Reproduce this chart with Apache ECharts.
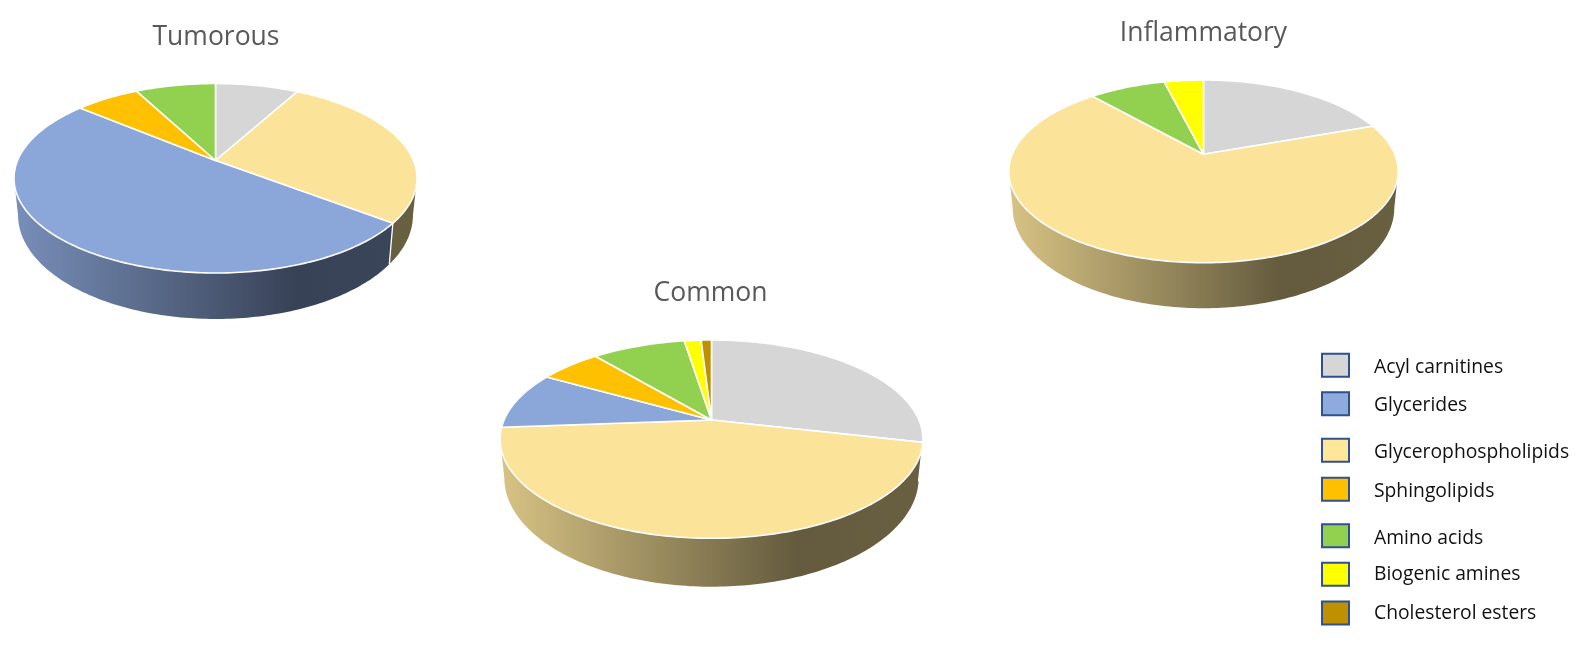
<!DOCTYPE html>
<html>
<head>
<meta charset="utf-8">
<style>html,body{margin:0;padding:0;background:#fff}#c{width:1594px;height:649px}</style>
<script src="https://cdn.jsdelivr.net/npm/echarts@6/dist/echarts.min.js"></script>
</head>
<body>
<div id="c"></div>
<script>
// Categories in legend order
const categories = ['Acyl carnitines','Glycerides','Glycerophospholipids','Sphingolipids','Amino acids','Biogenic amines','Cholesterol esters'];
// Percent share of each category
const tumorousValues     = [8.0, 50.7, 27.4, 6.2, 7.7, 0, 0];
const inflammatoryValues = [19.5, 0, 69.0, 0, 7.6, 3.9, 0];
const commonValues       = [28.6, 9.4, 45.2, 5.7, 8.6, 1.55, 0.95];
// Clockwise slice order from 12 o'clock (indices into categories)
const sliceOrder = [0, 2, 1, 3, 4, 5, 6];
const colors = ['#D6D6D6','#8BA6D8','#FBE39A','#FFC000','#92D050','#FFFF00','#BF9000'];
const legendFill = ['#D6D6D6','#8FAADC','#FFE699','#FFC000','#92D050','#FFFF00','#BF9000'];
const legendCentres = [365.3, 403.8, 450.2, 489.3, 535.8, 574.3, 613];
const legendTextCentres = [367.3, 406, 452.6, 491.4, 538.3, 574.6, 614];

const pies = [
  {title:'Tumorous',     values:tumorousValues,     cx:215.5, apexY:160.5, top:83.5, bottom:273,   left:14,    right:417,   drop:36.75, titleX:211,    titleY:18.5},
  {title:'Inflammatory', values:inflammatoryValues, cx:1203.5,apexY:154.3, top:80,   bottom:262.7, left:1008.8,right:1398.2,drop:36.6,  titleX:1198.5, titleY:14.5},
  {title:'Common',       values:commonValues,       cx:711.5, apexY:420,   top:340,  bottom:538.3, left:500.2, right:923,   drop:38.75, titleX:705.5,  titleY:274.5}
];

function shade(hex, f) {
  const n = parseInt(hex.slice(1), 16);
  const c = [n >> 16 & 255, n >> 8 & 255, n & 255].map(v => Math.round(v * f));
  return 'rgb(' + c.join(',') + ')';
}

function makeProjection(p) {
  const above = p.apexY - p.top, below = p.bottom - p.apexY;
  const k = (below - above) / (below + above);
  const b = below * (1 - k);
  const a = (p.right - p.left) / 2 * Math.sqrt(1 - k * k);
  const cyE = (p.top + p.bottom) / 2;
  const top = th => {
    const u = Math.sin(th), v = -Math.cos(th), w = 1 - k * v;
    return [p.cx + a * u / w, p.apexY + b * v / w];
  };
  const low = th => {
    const q = top(th);
    return [p.cx + (q[0] - p.cx) * 0.98, cyE + p.drop + (q[1] - cyE) * 1.0976];
  };
  const asn = Math.asin(k);
  return {top, low, visFrom: Math.PI / 2 + asn, visTo: 1.5 * Math.PI - asn};
}

function arc(fn, a0, a1) {
  const n = Math.max(2, Math.ceil(Math.abs(a1 - a0) / (Math.PI / 180)));
  const pts = [];
  for (let i = 0; i <= n; i++) pts.push(fn(a0 + (a1 - a0) * i / n));
  return pts;
}

function pieSeries(p) {
  const items = sliceOrder.filter(i => p.values[i] > 0).map(i => ({name: categories[i], value: p.values[i], cat: i}));
  const total = items.reduce((s, d) => s + d.value, 0);
  const proj = makeProjection(p);
  let acc = 0;
  const spans = items.map(d => {
    const s = acc / total * 2 * Math.PI;
    acc += d.value;
    return [s, acc / total * 2 * Math.PI];
  });
  return {
    type: 'custom', name: p.title, coordinateSystem: 'none', silent: true, animation: false, clip: false,
    data: items,
    renderItem(params) {
      const i = params.dataIndex, sp = spans[i], base = colors[items[i].cat];
      const children = [];
      const w0 = Math.max(sp[0], proj.visFrom), w1 = Math.min(sp[1], proj.visTo);
      if (w1 > w0) {
        const topPts = arc(proj.top, w0, w1), lowPts = arc(proj.low, w1, w0);
        children.push({
          type: 'polygon', z2: 1,
          shape: {points: topPts.concat(lowPts)},
          style: {fill: new echarts.graphic.LinearGradient(p.left, 0, p.right, 0, [
            {offset: 0, color: shade(base, 0.86)},
            {offset: 0.7, color: shade(base, 0.4)},
            {offset: 1, color: shade(base, 0.42)}
          ], true)}
        });
        if (w0 === sp[0]) {
          const a = proj.top(w0), c = proj.low(w0);
          children.push({type: 'line', z2: 2, shape: {x1: a[0], y1: a[1], x2: c[0], y2: c[1]}, style: {stroke: '#fff', lineWidth: 1.3}});
        }
      }
      children.push({
        type: 'polygon', z2: 5,
        shape: {points: [[p.cx, p.apexY]].concat(arc(proj.top, sp[0], sp[1]))},
        style: {fill: base, stroke: '#fff', lineWidth: 1.6, lineJoin: 'round'}
      });
      return {type: 'group', children};
    }
  };
}

const legendGraphics = [];
categories.forEach((name, i) => {
  const y = legendCentres[i];
  legendGraphics.push({type: 'rect', silent: true, shape: {x: 1322, y: y - 11.5, width: 27, height: 23},
    style: {fill: legendFill[i], stroke: '#2F528F', lineWidth: 2}});
  legendGraphics.push({type: 'text', silent: true, x: 1374, y: legendTextCentres[i],
    style: {text: name, font: '19.3px "Open Sans"', fill: '#111', textVerticalAlign: 'middle', textAlign: 'left'}});
});

const chart = echarts.init(document.getElementById('c'), null, {renderer: 'canvas'});
chart.setOption({
  backgroundColor: '#fff',
  animation: false,
  title: pies.map(p => ({
    text: p.title, left: p.titleX, top: p.titleY, textAlign: 'center',
    textStyle: {fontFamily: 'Open Sans', fontSize: 26.5, fontWeight: 'normal', color: '#595959'}
  })),
  series: pies.map(pieSeries),
  graphic: legendGraphics
});
</script>
</body>
</html>
